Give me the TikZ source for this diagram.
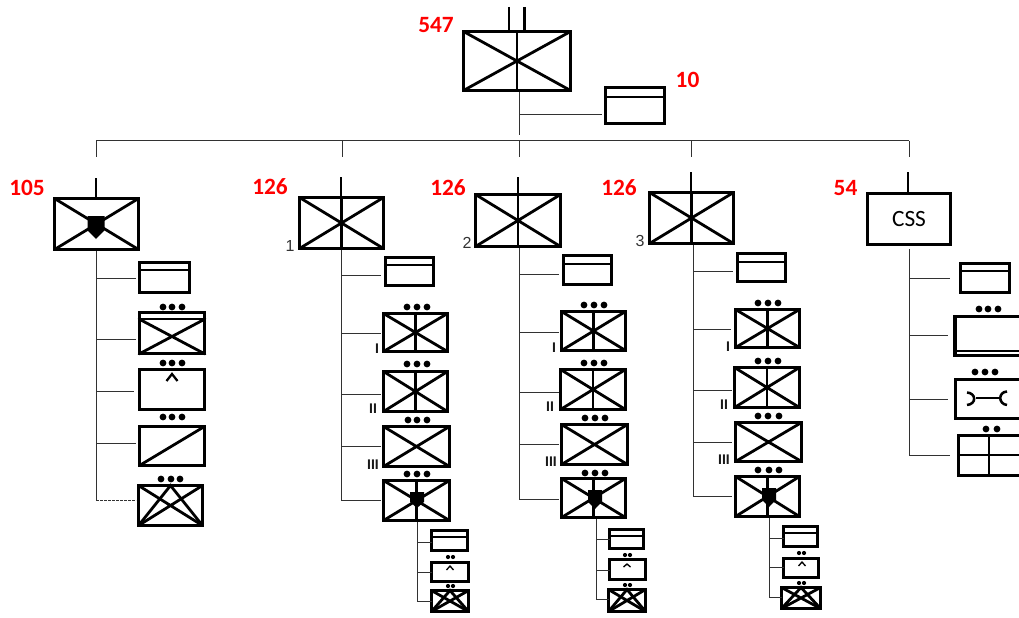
\documentclass[tikz,border=0pt]{standalone}
\usepackage{fontspec}
\setmainfont{Carlito}
\newfontfamily\arialf{Liberation Sans}
\definecolor{redlab}{RGB}{255,0,0}
\definecolor{connc}{RGB}{50,50,50}
\tikzset{
  unit/.style={draw=black,line width=2.4pt,inner sep=0pt,outer sep=0pt,rectangle,line join=miter},
  sym/.style={draw=black,line width=2.1pt,line cap=round},
  stroke/.style={draw=black,line width=2.1pt},
  conn/.style={draw=connc,line width=0.65pt},
  redtext/.style={text=redlab,inner sep=0pt,font=\fontsize{17.5}{17.5}\selectfont\bfseries},
  numtext/.style={text=black!80,inner sep=0pt,font=\arialf\fontsize{12}{12}\selectfont},
  romtext/.style={text=black!90,inner sep=0pt,font=\arialf\fontsize{10.5}{11}\selectfont\bfseries},
  dotfill/.style={fill=black},
}
% box: name x1 y1 x2 y2 (outer edges of the stroke)
\newcommand\ubox[5]{\node[unit,minimum width={(#4-#2-3)*0.75pt},minimum height={(#5-#3-3)*0.75pt}] (#1) at ({(#2+#4)/2},{(#3+#5)/2}) {};}
\newcommand\xsym[1]{\draw[sym] (#1.north west)--(#1.south east) (#1.north east)--(#1.south west);}
\newcommand\vsym[1]{\draw[sym] (#1.north)--(#1.south);}
\newcommand\starsym[1]{\xsym{#1}\draw[sym] (#1.south west)--(#1.north)--(#1.south east);}
% hq: name x1 y1 x2 y2 liney
\newcommand\hqbox[6]{\ubox{#1}{#2}{#3}{#4}{#5}\draw[stroke] (#2+1,#6)--(#4-1,#6);}
% dots: list, y, radius
\newcommand\dotrow[3]{\foreach \dx in {#1} {\fill[dotfill] (\dx,#2) circle [radius=#3];}}
% shield x top bottom halfwidth
\newcommand\shieldsym[4]{\fill[black] ({#1-#4},#2)--({#1+#4},#2)--({#1+#4},{#2+0.62*(#3-#2)})--(#1,#3)--({#1-#4},{#2+0.62*(#3-#2)})--cycle;}
% caret x y1 y2 halfwidth
\newcommand\caretsym[5]{\draw[black,line width=#5] ({#1-#4},#3)--(#1,#2)--({#1+#4},#3);}
% branch: name trunkx y box gap
\newcommand\branch[5]{\coordinate (#1) at (#2,#3); \draw[conn,shorten >={#5*0.75pt}] (#1)--(#1 -| #4.west);}
\begin{document}
\begin{tikzpicture}[x=0.75pt,y=-0.75pt]
\clip (0,0) rectangle (1019,617);
\useasboundingbox (0,0) rectangle (1019,617);
% ---- top
\ubox{top}{462}{30}{572}{92}
\xsym{top}\vsym{top}
\coordinate (u1) at (509,7); \coordinate (u2) at (524.5,7);
\draw[stroke] (u1)--(u1 |- top.north) (u2)--(u2 |- top.north);
\hqbox{tophq}{604}{86}{666}{125}{97}
\coordinate (tops) at (519,92); \coordinate (tope) at (519,135);
\draw[conn] (tops)--(tope);
\branch{tj}{519}{114.5}{tophq}{3.5}
% ---- bus
\coordinate (b1) at (96,140.5); \coordinate (b2) at (342,140.5); \coordinate (b3) at (519,140.5);
\coordinate (b4) at (691,140.5); \coordinate (b5) at (909,140.5);
\coordinate (d1) at (96,157); \coordinate (d2) at (342,157); \coordinate (d3) at (519,157);
\coordinate (d4) at (691,157); \coordinate (d5) at (909,157);
\draw[conn] (b1)--(d1) (b2)--(d2) (b3)--(d3) (b4)--(d4) (b5)--(d5) (b1)--(b5);
% ---- recon 105
\ubox{rec}{53}{197}{140}{251}
\xsym{rec}
\shieldsym{96}{216}{239}{8.5}
\coordinate (ru) at (96,178); \draw[stroke] (ru)--(ru |- rec.north);
\coordinate (rts) at (96,251); \coordinate (rte) at (96,500);
\draw[conn] (rts)--(rte);
\hqbox{rec1}{138}{261}{191}{294}{270}
\ubox{rec2}{138}{311}{206}{355}
\draw[stroke] (139,319)--(205,319);
\draw[sym] (139,319)--(205,354) (205,319)--(139,354);
\dotrow{163,172,182}{307}{3.4}
\ubox{rec3}{138}{368}{206}{411}
\dotrow{163,172,182}{363}{3.4}
\caretsym{172}{374}{381}{5.5}{1.7pt}
\ubox{rec4}{138}{425}{206}{467}
\dotrow{163,172,182}{417}{3.4}
\draw[sym] (rec4.south west)--(rec4.north east);
\ubox{rec5}{137}{484}{204}{527}
\dotrow{161,171,180}{479}{3.4}
\starsym{rec5}
\branch{rj1}{96}{278}{rec1}{3.5}
\branch{rj2}{96}{339}{rec2}{3.5}
\branch{rj3}{96}{391}{rec3}{5.5}
\branch{rj4}{96}{443}{rec4}{3.5}
\coordinate (rj5) at (96,500);
\draw[conn,dash pattern=on 2pt off 1pt,shorten >={2.5*0.75pt}] (rj5)--(rj5 -| rec5.west);
% ---- regiment 1
\ubox{a}{298}{196}{385}{250}
\xsym{a}\vsym{a}
\coordinate (au) at (341,177); \draw[stroke] (au)--(au |- a.north);
\coordinate (ats) at (341,250); \coordinate (ate) at (341,500);
\draw[conn] (ats)--(ate);
\hqbox{a0}{384}{256}{435}{287}{265}
\ubox{a1}{382}{312}{449}{353}\xsym{a1}\vsym{a1}
\dotrow{407,417,427}{307}{3.4}
\ubox{a2}{382}{370}{449}{413}\xsym{a2}\vsym{a2}
\dotrow{407,417,427}{364}{3.4}
\ubox{a3}{382}{425}{451}{468}\xsym{a3}
\dotrow{408,417,427}{420}{3.4}
\ubox{a4}{382}{479}{451}{522}\xsym{a4}\vsym{a4}
\dotrow{407,417,427}{474}{3.4}
\shieldsym{417}{492}{508}{7}
\branch{aj0}{341}{275}{a0}{4.5}
\branch{aj1}{341}{333}{a1}{2.5}
\branch{aj2}{341}{394}{a2}{2.5}
\branch{aj3}{341}{446}{a3}{2.5}
\branch{aj4}{341}{500}{a4}{2.5}
\coordinate (ass) at (417,522); \coordinate (ase) at (417,601);
\draw[conn] (ass)--(ase);
\hqbox{as1}{430}{529}{469}{552}{537}
\ubox{as2}{430}{561}{470}{583}
\dotrow{448,453}{557}{2.1}
\caretsym{450}{566}{570}{3.5}{1pt}
\ubox{as3}{430}{589}{470}{613}\starsym{as3}
\dotrow{448,453}{586}{2.1}
\branch{asj1}{417}{542}{as1}{0}
\branch{asj2}{417}{572}{as2}{0}
\branch{asj3}{417}{601}{as3}{0}
% ---- regiment 2
\ubox{c}{474}{193}{562}{248}
\xsym{c}\vsym{c}
\coordinate (cu) at (518,177); \draw[stroke] (cu)--(cu |- c.north);
\coordinate (cts) at (519,248); \coordinate (cte) at (519,499);
\draw[conn] (cts)--(cte);
\hqbox{c0}{562}{254}{613}{286}{264}
\ubox{c1}{560}{310}{627}{352}\xsym{c1}\vsym{c1}
\dotrow{584,594,604}{305}{3.4}
\ubox{c2}{559}{368}{627}{411}\xsym{c2}\vsym{c2}
\dotrow{584,594,604}{363}{3.4}
\ubox{c3}{560}{423}{629}{466}\xsym{c3}
\dotrow{585,595,605}{418}{3.4}
\ubox{c4}{560}{477}{627}{519}\xsym{c4}\vsym{c4}
\dotrow{585,595,605}{473}{3.4}
\shieldsym{595}{490}{509}{7}
\branch{cj0}{519}{274}{c0}{4.5}
\branch{cj1}{519}{332}{c1}{2.5}
\branch{cj2}{519}{392}{c2}{1.5}
\branch{cj3}{519}{444}{c3}{2.5}
\branch{cj4}{519}{499}{c4}{2.5}
\coordinate (css) at (596,519); \coordinate (cse) at (596,599);
\draw[conn] (css)--(cse);
\hqbox{cs1}{608}{528}{645}{550}{536}
\ubox{cs2}{608}{558}{647}{581}
\dotrow{625,630}{555}{2.1}
\caretsym{627}{564}{567}{3.5}{1pt}
\ubox{cs3}{607}{588}{647}{613}\starsym{cs3}
\dotrow{625,630}{585}{2.1}
\branch{csj1}{596}{539}{cs1}{0}
\branch{csj2}{596}{570}{cs2}{0}
\branch{csj3}{596}{599}{cs3}{0}
% ---- regiment 3
\ubox{e}{648}{191}{735}{245}
\xsym{e}\vsym{e}
\coordinate (eu) at (691,172); \draw[stroke] (eu)--(eu |- e.north);
\coordinate (ets) at (693,245); \coordinate (ete) at (693,496);
\draw[conn] (ets)--(ete);
\hqbox{e0}{736}{252}{787}{283}{262}
\ubox{e1}{734}{308}{801}{349}\xsym{e1}\vsym{e1}
\dotrow{758,768,778}{303}{3.4}
\ubox{e2}{733}{366}{801}{409}\xsym{e2}\vsym{e2}
\dotrow{758,768,778}{361}{3.4}
\ubox{e3}{734}{421}{803}{463}\xsym{e3}
\dotrow{758,768,779}{416}{3.4}
\ubox{e4}{734}{475}{801}{518}\xsym{e4}\vsym{e4}
\dotrow{758,769,779}{470}{3.4}
\shieldsym{769}{488}{507}{7}
\branch{ej0}{693}{271}{e0}{4.5}
\branch{ej1}{693}{329}{e1}{4.5}
\branch{ej2}{693}{390}{e2}{2.5}
\branch{ej3}{693}{442}{e3}{3.5}
\branch{ej4}{693}{496}{e4}{3.5}
\coordinate (ess) at (769,518); \coordinate (ese) at (769,597);
\draw[conn] (ess)--(ese);
\hqbox{es1}{782}{525}{819}{548}{533}
\ubox{es2}{782}{557}{820}{579}
\dotrow{799,804}{553}{2.1}
\caretsym{802}{562}{566}{3.5}{1pt}
\ubox{es3}{780}{586}{822}{610}\starsym{es3}
\dotrow{799,804}{583}{2.1}
\branch{esj1}{769}{538}{es1}{0}
\branch{esj2}{769}{567}{es2}{0}
\branch{esj3}{769}{597}{es3}{0}
% ---- CSS
\node[unit,minimum width={83*0.75pt},minimum height={51*0.75pt},font=\fontsize{17.5}{17.5}\selectfont] (g) at (909,219) {\raisebox{-1.5pt}{CSS}};
\coordinate (gu) at (908,172); \draw[stroke] (gu)--(gu |- g.north);
\coordinate (gts) at (909,249); \coordinate (gte) at (909,455);
\draw[conn] (gts)--(gte);
\hqbox{g1}{959}{262}{1011}{294}{271}
\ubox{g2}{953}{315}{1025}{357}
\draw[black,line width=0.8pt] (954,351)--(1025,351);
\draw[black,line width=3pt] (955,316)--(955,356);
\dotrow{979,988,998}{309}{3.4}
\ubox{g3}{954}{378}{1025}{420}
\dotrow{975,985,995}{372}{3.4}
\draw[black,line width=1.5pt] (976,398)--(1000,398);
\draw[black,line width=1.9pt] (967,392.5) .. controls (976,393) and (977,404) .. (967,405);
\draw[black,line width=1.9pt] (1007,391.5) .. controls (998,392) and (998,404) .. (1007,405);
\ubox{g4}{957}{434}{1025}{477}
\dotrow{986,997}{429}{3.4}
\draw[stroke] (958,455)--(1025,455) (989,435)--(989,476);
\branch{gj1}{909}{278}{g1}{10.5}
\branch{gj2}{909}{335}{g2}{6.5}
\branch{gj3}{909}{399}{g3}{7.5}
\branch{gj4}{909}{455}{g4}{8.5}
% ---- labels
\node[redtext] (l547) at (436,25) {547};
\node[redtext] (l10) at (687.5,80) {10};
\node[redtext] (l105) at (27,188) {105};
\node[redtext] (l126a) at (270,186.5) {126};
\node[redtext] (l126b) at (448,188) {126};
\node[redtext] (l126c) at (619,188) {126};
\node[redtext] (l54) at (845.5,188) {54};
\node[numtext] (n1) at (290,246) {1};
\node[numtext] (n2) at (467,243) {2};
\node[numtext] (n3) at (640,241) {3};
\node[romtext] (ra1) at (377,349) {I};
\node[romtext] (ra2) at (373,409) {II};
\node[romtext] (ra3) at (373,465) {III};
\node[romtext] (rc1) at (554,348) {I};
\node[romtext] (rc2) at (550,407) {II};
\node[romtext] (rc3) at (551,462) {III};
\node[romtext] (re1) at (728,347) {I};
\node[romtext] (re2) at (724,405) {II};
\node[romtext] (re3) at (724,460) {III};
\end{tikzpicture}
\end{document}
